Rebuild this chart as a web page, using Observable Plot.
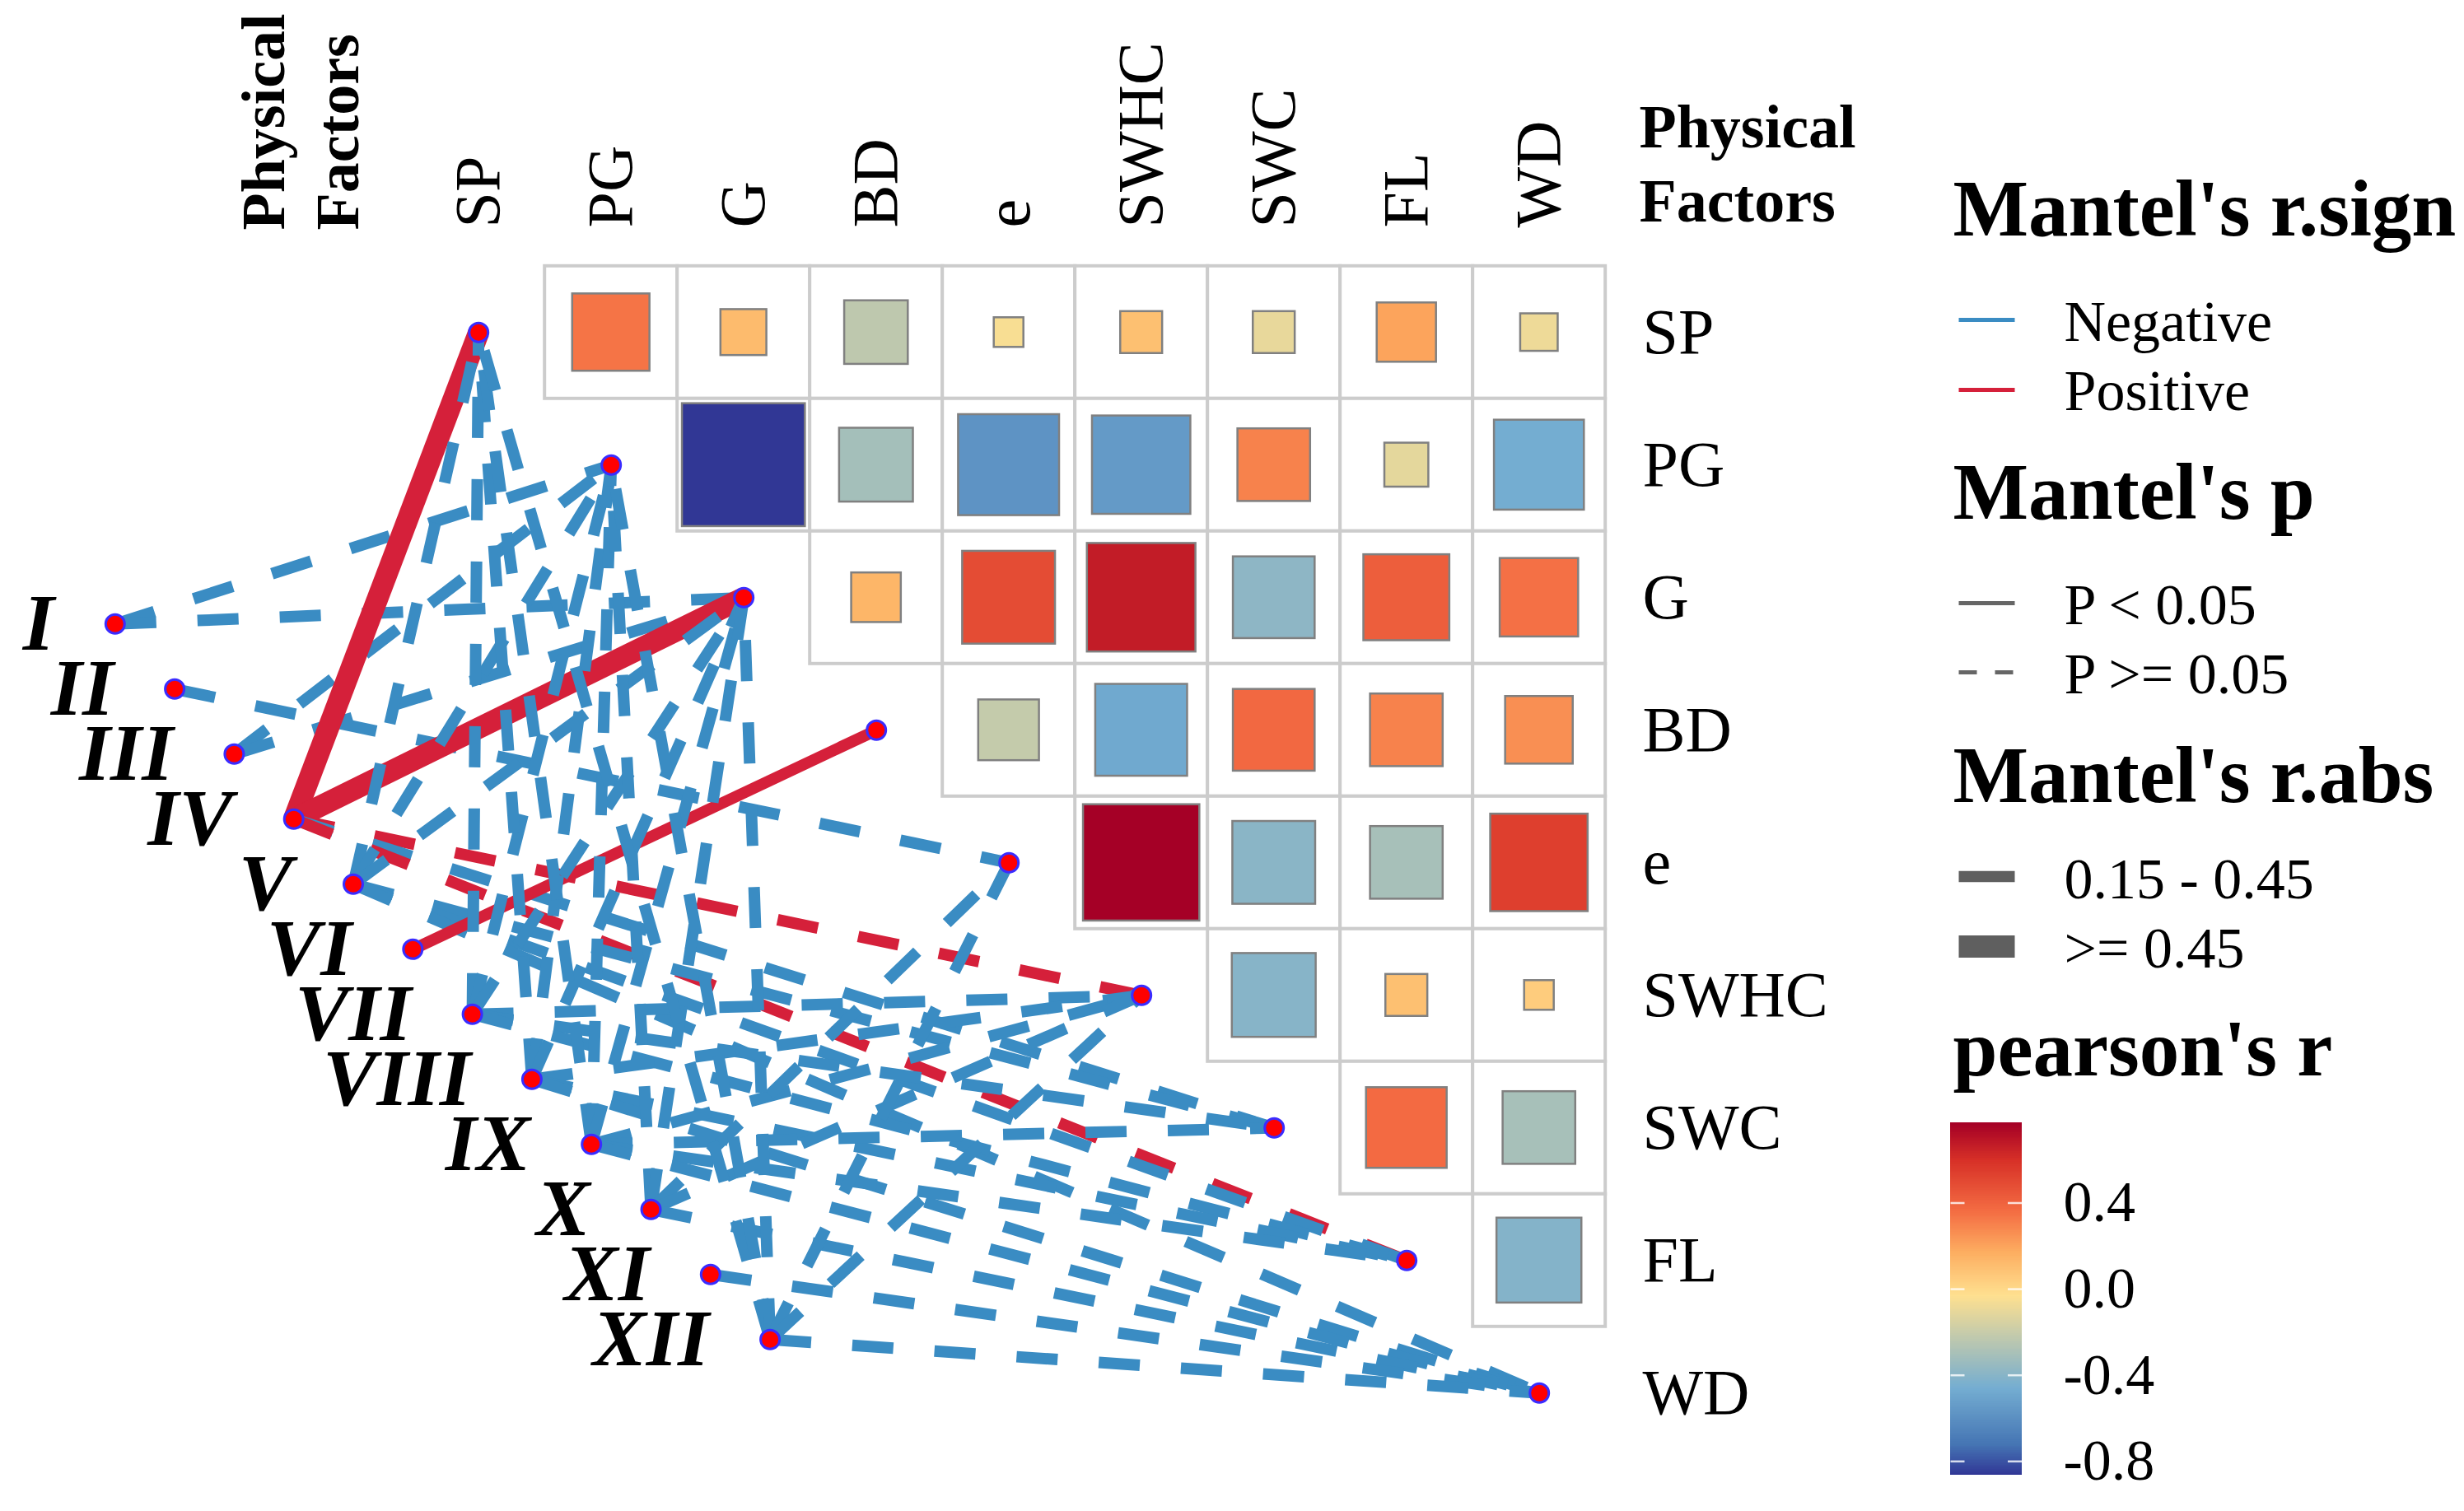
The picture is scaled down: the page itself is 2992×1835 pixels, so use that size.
<!DOCTYPE html>
<html>
<head>
<meta charset="utf-8">
<script src="https://cdn.jsdelivr.net/npm/d3@7"></script>
<script src="https://cdn.jsdelivr.net/npm/@observablehq/plot@0.6"></script>
<style>
  html, body { margin: 0; padding: 0; background: #ffffff; }
  #chart { position: absolute; left: 0; top: 0; }
</style>
</head>
<body>
<div id="chart"></div>
<script>
// ---------------- DATA ----------------
const envFactors = ["SP", "PG", "G", "BD", "e", "SWHC", "SWC", "FL", "WD"];
const groups = ["I", "II", "III", "IV", "V", "VI", "VII", "VIII", "IX", "X", "XI", "XII"];

// pearson's r, upper triangle (row factor vs. the factors after it)
const pearsonSP   = [0.34, 0.12, -0.23, -0.05, 0.10, -0.10, 0.20, -0.08]; // vs PG..WD
const pearsonPG   = [-0.86, -0.31, -0.58, -0.55, 0.30, -0.11, -0.46];     // vs G..WD
const pearsonG    = [0.14, 0.49, 0.67, -0.38, 0.42, 0.35];                // vs BD..WD
const pearsonBD   = [-0.21, -0.48, 0.38, 0.30, 0.26];                     // vs e..WD
const pearsonE    = [0.77, -0.39, -0.30, 0.54];                           // vs SWHC..WD
const pearsonSWHC = [-0.40, 0.10, 0.05];                                  // vs SWC..WD
const pearsonSWC  = [0.37, -0.30];                                        // vs FL, WD
const pearsonFL   = [-0.41];                                              // vs WD
const pearsonRows = [pearsonSP, pearsonPG, pearsonG, pearsonBD, pearsonE, pearsonSWHC, pearsonSWC, pearsonFL];

// Mantel links (group -> physical factor)
const linkGroup = [
  "I", "I",
  "II",
  "III", "III",
  "IV", "IV", "IV", "IV", "IV",
  "V", "V", "V", "V", "V", "V",
  "VI",
  "VII", "VII", "VII", "VII", "VII", "VII",
  "VIII", "VIII", "VIII", "VIII", "VIII", "VIII",
  "IX", "IX", "IX", "IX", "IX", "IX", "IX",
  "X", "X", "X", "X", "X",
  "XI",
  "XII", "XII", "XII", "XII", "XII", "XII"
];
const linkEnv = [
  "PG", "G",
  "e",
  "PG", "G",
  "SP", "G", "SWHC", "SWC", "FL",
  "SP", "PG", "G", "SWC", "FL", "WD",
  "BD",
  "SP", "PG", "G", "SWHC", "SWC", "FL",
  "SP", "PG", "G", "SWHC", "FL", "WD",
  "SP", "PG", "G", "SWHC", "SWC", "FL", "WD",
  "PG", "G", "e", "SWHC", "WD",
  "WD",
  "SP", "PG", "G", "e", "SWHC", "WD"
];
const positiveLinks    = ["IV-SP", "IV-G", "IV-SWHC", "IV-FL", "VI-BD"]; // Mantel's r.sign = Positive
const significantLinks = ["IV-SP", "IV-G", "VI-BD"];                     // Mantel's p < 0.05
const strongLinks      = ["IV-SP", "IV-G"];                              // Mantel's r.abs >= 0.45

// legend categories
const signLevels = ["Negative", "Positive"];
const pLevels = ["P < 0.05", "P >= 0.05"];
const rabsLevels = ["0.15 - 0.45", ">= 0.45"];
const colorTicks = [0.4, 0.0, -0.4, -0.8];
const colorTickLabels = ["0.4", "0.0", "-0.4", "-0.8"];
const colorRange = [-0.862, 0.769];

// ---------------- LAYOUT ----------------
const W = 2992, H = 1835;
const CELL = 161, OX = 580.7, OY = 403.3;           // pixel position of the first diagonal node
const ux = px => (px - OX) / CELL;
const uy = py => (py - OY) / CELL;
const gx = i => ux(139.3 + 72.3 * i);               // group node layout (diagonal left of the matrix)
const gy = i => uy(757.3 + 79.0 * i);
const FONT = "'Liberation Serif', 'Times New Roman', Times, serif";
const BLUE = "#3a8cc3", RED = "#d5203a";

const cells = [];
pearsonRows.forEach((row, j) => row.forEach((r, k) => cells.push({row: j, col: j + 1 + k, r})));

const links = linkGroup.map((g, i) => {
  const key = g + "-" + linkEnv[i];
  const gi = groups.indexOf(g), ej = envFactors.indexOf(linkEnv[i]);
  return {
    key,
    sign: positiveLinks.includes(key) ? "Positive" : "Negative",
    p: significantLinks.includes(key) ? "P < 0.05" : "P >= 0.05",
    rabs: strongLinks.includes(key) ? ">= 0.45" : "0.15 - 0.45",
    x1: gx(gi), y1: gy(gi), x2: ej, y2: ej
  };
});
const signColor = {"Negative": BLUE, "Positive": RED};
const rabsWidth = {"0.15 - 0.45": 14, ">= 0.45": 26};

const linkMarks = links.map(l => Plot.link([l], {
  x1: "x1", y1: "y1", x2: "x2", y2: "y2",
  stroke: signColor[l.sign],
  strokeWidth: rabsWidth[l.rabs],
  strokeDasharray: l.p === "P >= 0.05" ? "50,50" : null,
  strokeLinecap: "butt"
}));

const envNodes = envFactors.map((d, j) => ({x: j, y: j}));
const groupNodes = groups.map((d, i) => ({x: gx(i), y: gy(i)}));

// colour bar
const barTop = 1364, barBottom = 1790.5, barLeft = 2368, barRight = 2454.5;
const barY = d3.scaleLinear().domain([colorRange[1], colorRange[0]]).range([barTop, barBottom]);
const N = 240;
const strips = d3.range(N).map(k => {
  const v0 = colorRange[0] + (colorRange[1] - colorRange[0]) * k / N;
  const v1 = colorRange[0] + (colorRange[1] - colorRange[0]) * (k + 1) / N;
  return {v: (v0 + v1) / 2, y1: uy(barY(v1)) - 0.004, y2: uy(barY(v0)) + 0.004};
});

const txt = (s, px, py, o = {}) => Plot.text([s], {
  x: ux(px), y: uy(py), text: d => d, fontFamily: FONT, fill: "#000",
  textAnchor: "start", lineAnchor: "bottom", ...o
});

const LX = 2371, KX1 = 2378, KX2 = 2446, TX = 2506;

const chart = Plot.plot({
  width: W, height: H,
  marginTop: 0, marginRight: 0, marginBottom: 0, marginLeft: 0,
  x: {domain: [ux(0), ux(W)], range: [0, W], axis: null},
  y: {domain: [uy(0), uy(H)], range: [0, H], axis: null},
  color: {
    type: "linear",
    domain: [-0.862, -0.72, -0.46, -0.03, 0.17, 0.36, 0.6, 0.769],
    range: ["#313695", "#4575b4", "#74add1", "#fee090", "#fdae61", "#f46d43", "#d73027", "#a50026"],
    interpolate: "rgb"
  },
  style: {background: "#ffffff", fontFamily: FONT},
  marks: [
    // matrix grid
    Plot.rect(cells, {x1: d => d.col - 0.5, x2: d => d.col + 0.5, y1: d => d.row - 0.5, y2: d => d.row + 0.5,
      fill: "#ffffff", stroke: "#cccccc", strokeWidth: 4, inset: 0}),
    // squares: area proportional to |r|
    Plot.rect(cells, {
      x1: d => d.col - Math.sqrt(Math.abs(d.r)) / 2, x2: d => d.col + Math.sqrt(Math.abs(d.r)) / 2,
      y1: d => d.row - Math.sqrt(Math.abs(d.r)) / 2, y2: d => d.row + Math.sqrt(Math.abs(d.r)) / 2,
      fill: "r", stroke: "#808080", strokeWidth: 2.5, inset: 0}),
    // Mantel links
    ...linkMarks,
    // nodes
    Plot.dot([...envNodes, ...groupNodes], {x: "x", y: "y", r: 11.5, fill: "#ff0000", stroke: "#3a2cff", strokeWidth: 3}),
    // column labels (top)
    Plot.text(envFactors, {x: (d, i) => i, y: uy(276), text: d => d, rotate: -90, textAnchor: "start",
      fontSize: 78, fontFamily: FONT, fill: "#000"}),
    // row labels (right)
    Plot.text(envFactors, {x: ux(1994), y: (d, i) => i, text: d => d, textAnchor: "start",
      fontSize: 78, fontFamily: FONT, fill: "#000"}),
    // group labels
    Plot.text(groups, {x: (d, i) => gx(i), y: (d, i) => gy(i), dx: -74, text: d => d, textAnchor: "end",
      fontSize: 98, fontWeight: "bold", fontStyle: "italic", fontFamily: FONT, fill: "#000"}),
    // "Physical Factors" titles
    Plot.text(["Physical", "Factors"], {x: (d, i) => ux([344, 434][i]), y: uy(279), text: d => d, rotate: -90,
      textAnchor: "start", lineAnchor: "bottom", fontSize: 74, fontWeight: "bold", fontFamily: FONT, fill: "#000"}),
    txt("Physical", 1990, 178, {fontSize: 74, fontWeight: "bold"}),
    txt("Factors", 1990, 268, {fontSize: 74, fontWeight: "bold"}),

    // ---- legend: Mantel's r.sign
    txt("Mantel's r.sign", LX, 285, {fontSize: 97, fontWeight: "bold"}),
    Plot.link(signLevels, {x1: ux(KX1), x2: ux(KX2), y1: (d, i) => uy([388, 473][i]), y2: (d, i) => uy([388, 473][i]),
      stroke: d => signColor[d], strokeWidth: 5}),
    Plot.text(signLevels, {x: ux(TX), y: (d, i) => uy([413, 497.5][i]), text: d => d, textAnchor: "start",
      lineAnchor: "bottom", fontSize: 70, fontFamily: FONT, fill: "#000"}),

    // ---- legend: Mantel's p
    txt("Mantel's p", LX, 629, {fontSize: 97, fontWeight: "bold"}),
    Plot.link([pLevels[0]], {x1: ux(KX1), x2: ux(KX2), y1: uy(732), y2: uy(732), stroke: "#666666", strokeWidth: 5}),
    Plot.link([pLevels[1]], {x1: ux(KX1), x2: ux(KX2), y1: uy(816), y2: uy(816), stroke: "#666666", strokeWidth: 5,
      strokeDasharray: "22,22"}),
    Plot.text(pLevels, {x: ux(TX), y: (d, i) => uy([757, 841][i]), text: d => d, textAnchor: "start",
      lineAnchor: "bottom", fontSize: 70, fontFamily: FONT, fill: "#000"}),

    // ---- legend: Mantel's r.abs
    txt("Mantel's r.abs", LX, 973, {fontSize: 97, fontWeight: "bold"}),
    Plot.link(rabsLevels, {x1: ux(KX1), x2: ux(KX2), y1: (d, i) => uy([1064, 1149][i]), y2: (d, i) => uy([1064, 1149][i]),
      stroke: "#5f5f5f", strokeWidth: (d, i) => [13.4, 27][i]}),
    Plot.text(rabsLevels, {x: ux(TX), y: (d, i) => uy([1090, 1174][i]), text: d => d, textAnchor: "start",
      lineAnchor: "bottom", fontSize: 70, fontFamily: FONT, fill: "#000"}),

    // ---- legend: pearson's r colour bar
    txt("pearson's r", LX, 1305, {fontSize: 97, fontWeight: "bold"}),
    Plot.rect(strips, {x1: ux(barLeft), x2: ux(barRight), y1: "y1", y2: "y2", fill: "v", inset: 0, shapeRendering: "crispEdges"}),
    Plot.link(colorTicks, {x1: ux(barLeft), x2: ux(barLeft + 17), y1: d => uy(barY(d)), y2: d => uy(barY(d)), stroke: "#ffffff", strokeWidth: 2.5, strokeOpacity: 0.8}),
    Plot.link(colorTicks, {x1: ux(barRight - 17), x2: ux(barRight), y1: d => uy(barY(d)), y2: d => uy(barY(d)), stroke: "#ffffff", strokeWidth: 2.5, strokeOpacity: 0.8}),
    Plot.text(colorTicks, {x: ux(2505), y: d => uy(barY(d)), text: (d, i) => colorTickLabels[i], textAnchor: "start",
      fontSize: 70, fontFamily: FONT, fill: "#000"})
  ]
});

document.getElementById("chart").appendChild(chart);
</script>
</body>
</html>
